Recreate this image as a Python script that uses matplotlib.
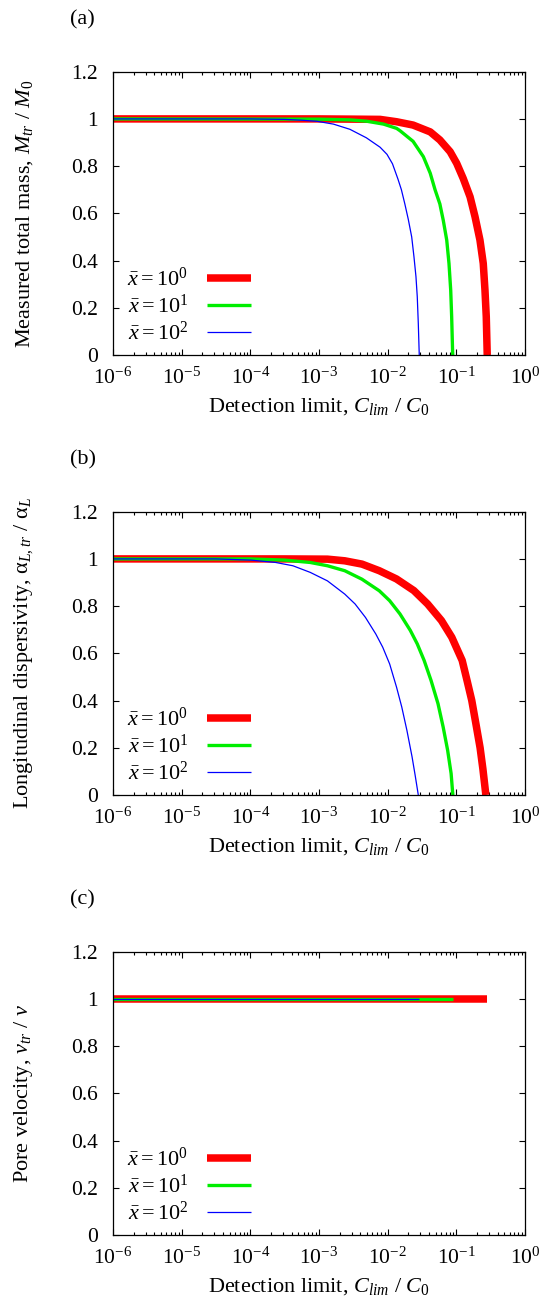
import numpy as np
import matplotlib
matplotlib.use("Agg")
import matplotlib.pyplot as plt
from matplotlib.ticker import LogLocator, FixedLocator, NullFormatter, LogFormatterMathtext

plt.rcParams["font.family"] = ["Liberation Serif", "DejaVu Serif"]
plt.rcParams["mathtext.fontset"] = "custom"
plt.rcParams["mathtext.rm"] = "Liberation Serif"
plt.rcParams["mathtext.it"] = "Liberation Serif:italic"
plt.rcParams["mathtext.bf"] = "Liberation Serif:bold"
plt.rcParams["axes.unicode_minus"] = False

# ---- data: log10(C_lim / C0) and normalised moment ----
series_labels = [r"$\bar{x} = 10^{0}$", r"$\bar{x} = 10^{1}$", r"$\bar{x} = 10^{2}$"]
series_colors = ["#ff0000", "#00ee00", "#0000ff"]

# (a) measured total mass
mass_logc_x1 = [-6.0, -3.0, -2.5, -2.11, -1.87, -1.63, -1.38, -1.24, -1.09, -0.995, -0.9, -0.8,
                -0.728, -0.656, -0.608, -0.583, -0.564, -0.55]
mass_val_x1 = [1.0, 1.0, 0.999, 0.998, 0.988, 0.974, 0.945, 0.911, 0.861, 0.812, 0.748, 0.67,
               0.586, 0.487, 0.388, 0.275, 0.162, 0.0]
mass_logc_x10 = [-6.0, -3.0, -2.55, -2.3, -2.06, -1.87, -1.82, -1.63, -1.48, -1.38, -1.31, -1.24,
                 -1.19, -1.14, -1.107, -1.082, -1.068, -1.053]
mass_val_x10 = [1.0, 0.999, 0.996, 0.99, 0.978, 0.96, 0.95, 0.905, 0.84, 0.77, 0.70, 0.64,
                0.57, 0.487, 0.388, 0.275, 0.162, 0.0]
mass_logc_x100 = [-6.0, -4.0, -3.5, -3.28, -3.03, -2.79, -2.55, -2.31, -2.11, -2.01, -1.93, -1.85,
                  -1.8, -1.75, -1.7, -1.65, -1.617, -1.588, -1.569, -1.554, -1.54]
mass_val_x100 = [1.0, 1.0, 0.998, 0.995, 0.99, 0.978, 0.956, 0.92, 0.88, 0.85, 0.81, 0.745,
                 0.70, 0.64, 0.575, 0.50, 0.416, 0.332, 0.247, 0.134, 0.0]

# (b) longitudinal dispersivity
disp_logc_x1 = [-6.0, -3.5, -2.877, -2.625, -2.374, -2.122, -1.871, -1.619, -1.418, -1.217, -1.066,
                -0.915, -0.84, -0.775, -0.714, -0.654, -0.613, -0.57]
disp_val_x1 = [1.0, 1.0, 0.999, 0.992, 0.978, 0.95, 0.915, 0.866, 0.809, 0.739, 0.668,
               0.57, 0.48, 0.40, 0.30, 0.20, 0.11, 0.0]
disp_logc_x10 = [-6.0, -4.0, -3.5, -3.128, -2.877, -2.625, -2.374, -2.122, -1.971, -1.821, -1.67,
                 -1.569, -1.469, -1.368, -1.267, -1.192, -1.127, -1.076, -1.051]
disp_val_x10 = [1.0, 1.0, 0.995, 0.985, 0.971, 0.95, 0.914, 0.865, 0.823, 0.767, 0.697,
                0.64, 0.57, 0.485, 0.387, 0.288, 0.19, 0.091, 0.0]
disp_logc_x100 = [-6.0, -4.5, -3.993, -3.631, -3.38, -3.128, -2.877, -2.625, -2.474, -2.323, -2.173,
                  -2.072, -1.971, -1.871, -1.795, -1.72, -1.645, -1.6, -1.554]
disp_val_x100 = [1.0, 1.0, 0.995, 0.985, 0.971, 0.943, 0.907, 0.851, 0.809, 0.752, 0.682,
                 0.626, 0.555, 0.457, 0.373, 0.274, 0.162, 0.084, 0.0]

# (c) pore velocity
vel_logc_x1 = [-6.0, -0.56]
vel_val_x1 = [1.0, 1.0]
vel_logc_x10 = [-6.0, -1.053]
vel_val_x10 = [1.0, 1.0]
vel_logc_x100 = [-6.0, -1.544]
vel_val_x100 = [1.0, 1.0]

y_ticks = [0.0, 0.2, 0.4, 0.6, 0.8, 1.0, 1.2]
y_tick_labels = ["0", "0.2", "0.4", "0.6", "0.8", "1", "1.2"]
panel_tags = ["(a)", "(b)", "(c)"]
y_titles = [
    r"Measured total mass, $M_{tr}$ / $M_0$",
    r"Longitudinal dispersivity, $\mathrm{\alpha}_{L,tr}$ / $\mathrm{\alpha}_L$",
    r"Pore velocity, $v_{tr}$ / $v$",
]
x_title = r"Detection limit, $C_{lim}$ / $C_0$"

panels = [
    [(mass_logc_x1, mass_val_x1), (mass_logc_x10, mass_val_x10), (mass_logc_x100, mass_val_x100)],
    [(disp_logc_x1, disp_val_x1), (disp_logc_x10, disp_val_x10), (disp_logc_x100, disp_val_x100)],
    [(vel_logc_x1, vel_val_x1), (vel_logc_x10, vel_val_x10), (vel_logc_x100, vel_val_x100)],
]

W, H = 541, 1306
fig = plt.figure(figsize=(W / 100, H / 100), dpi=100)

line_widths = [5.4, 2.4, 0.9]
ax_left, ax_right = 113, 525
ax_bottoms = [355, 795, 1235]
ax_h = 283.3
tag_y = [20, 460, 900]
FS = 16
TFS = 15.5

for k in range(3):
    b = ax_bottoms[k]
    ax = fig.add_axes([ax_left / W, 1 - b / H, (ax_right - ax_left) / W, ax_h / H])
    for (lc, vals), col, lw, lab in zip(panels[k], series_colors, line_widths, series_labels):
        ax.plot(10.0 ** np.asarray(lc), vals, color=col, lw=lw, label=lab,
                solid_capstyle="butt", solid_joinstyle="round")
    ax.set_xscale("log")
    ax.set_xlim(1e-6, 1e0)
    ax.set_ylim(0, 1.2)
    ax.xaxis.set_major_locator(LogLocator(base=10, numticks=10))
    ax.xaxis.set_minor_locator(LogLocator(base=10, subs=np.arange(2, 10), numticks=10))
    ax.xaxis.set_major_formatter(LogFormatterMathtext())
    ax.xaxis.set_minor_formatter(NullFormatter())
    ax.yaxis.set_major_locator(FixedLocator(y_ticks))
    ax.set_yticklabels(y_tick_labels)
    ax.tick_params(which="both", direction="in", top=True, right=True, width=0.8, labelsize=TFS)
    ax.tick_params(which="major", length=4)
    ax.tick_params(which="minor", length=2)
    ax.tick_params(axis="x", pad=9)
    ax.tick_params(axis="y", pad=11)
    for sp in ax.spines.values():
        sp.set_linewidth(0.9)
    ax.set_xlabel(x_title, fontsize=FS)
    ax.set_ylabel(y_titles[k], fontsize=FS)
    ax.xaxis.set_label_coords(0.5, -0.145)
    ax.yaxis.set_label_coords(-0.19, 0.5)
    ax.legend(loc="lower left", bbox_to_anchor=(0.035, 0.035), frameon=False, markerfirst=False,
              fontsize=FS, handlelength=2.0, handletextpad=0.85, labelspacing=0.18,
              borderaxespad=0.0, borderpad=0.0)
    fig.text(70 / W, 1 - tag_y[k] / H, panel_tags[k], fontsize=FS, ha="left", va="center")

fig.savefig("out.png", dpi=100)
